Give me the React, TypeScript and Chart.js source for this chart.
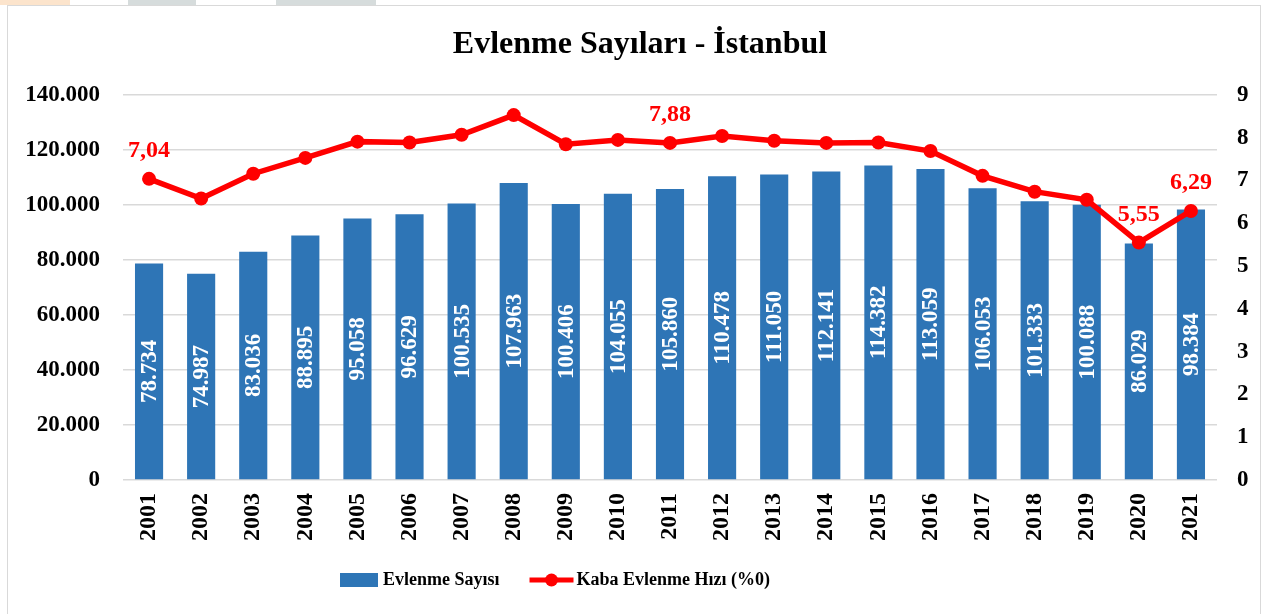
import React, { useEffect, useRef } from "react";
import { Chart, registerables } from "chart.js";

Chart.register(...registerables);

const years = ["2001","2002","2003","2004","2005","2006","2007","2008","2009","2010","2011","2012","2013","2014","2015","2016","2017","2018","2019","2020","2021"];
const marriages = [78734, 74987, 83036, 88895, 95058, 96629, 100535, 107963, 100406, 104055, 105860, 110478, 111050, 112141, 114382, 113059, 106053, 101333, 100088, 86029, 98384];
const crudeRate = [7.04, 6.58, 7.16, 7.53, 7.91, 7.89, 8.07, 8.53, 7.85, 7.95, 7.88, 8.04, 7.93, 7.88, 7.89, 7.69, 7.11, 6.74, 6.55, 5.55, 6.29];
const labelledRateIdx = [0, 10, 19, 20];
const leftTicks = [0, 20000, 40000, 60000, 80000, 100000, 120000, 140000];
const rightTicks = [0, 1, 2, 3, 4, 5, 6, 7, 8, 9];

const TITLE = "Evlenme Sayıları - İstanbul";
const BAR_NAME = "Evlenme Sayısı";
const LINE_NAME = "Kaba Evlenme Hızı (%0)";

const SERIF = "'Liberation Serif', 'Times New Roman', serif";
const BLUE = "#2E75B6";
const RED = "#FF0000";
const GRID = "#D9D9D9";

const fmtThousands = (v: number) => String(Math.round(v)).replace(/\B(?=(\d{3})+(?!\d))/g, ".");
const fmtComma = (v: number) => v.toFixed(2).replace(".", ",");

const decorPlugin = {
  id: "decor",
  afterDatasetsDraw(chart: any) {
    const ctx = chart.ctx;
    const barMeta = chart.getDatasetMeta(1);
    ctx.save();
    ctx.fillStyle = "#FFFFFF";
    ctx.font = `bold 23px ${SERIF}`;
    ctx.textAlign = "center";
    ctx.textBaseline = "middle";
    barMeta.data.forEach((el: any, i: number) => {
      const cy = (el.y + el.base) / 2;
      ctx.save();
      ctx.translate(el.x, cy);
      ctx.rotate(-Math.PI / 2);
      ctx.fillText(fmtThousands(marriages[i]), 0, 1);
      ctx.restore();
    });
    ctx.restore();
  },
  afterDraw(chart: any) {
    const ctx = chart.ctx;
    const lineMeta = chart.getDatasetMeta(0);
    ctx.save();
    ctx.fillStyle = RED;
    ctx.font = `bold 24px ${SERIF}`;
    ctx.textAlign = "center";
    ctx.textBaseline = "alphabetic";
    labelledRateIdx.forEach((i) => {
      const el = lineMeta.data[i];
      ctx.fillText(fmtComma(crudeRate[i]), el.x, el.y - 22);
    });
    ctx.restore();

    ctx.save();
    ctx.fillStyle = "#000";
    ctx.font = `bold 32px ${SERIF}`;
    ctx.textAlign = "center";
    ctx.textBaseline = "middle";
    ctx.fillText(TITLE, 640, 45);
    ctx.restore();

    ctx.save();
    ctx.font = `bold 18px ${SERIF}`;
    ctx.textBaseline = "middle";
    ctx.textAlign = "left";
    const ly = 580;
    const w1 = ctx.measureText(BAR_NAME).width;
    const w2 = ctx.measureText(LINE_NAME).width;
    const total = 38 + 5 + w1 + 30 + 44 + 3 + w2;
    let x = 555 - total / 2;
    ctx.fillStyle = BLUE;
    ctx.fillRect(x, ly - 7, 38, 14);
    x += 43;
    ctx.fillStyle = "#000";
    ctx.fillText(BAR_NAME, x, ly);
    x += w1 + 30;
    ctx.strokeStyle = RED;
    ctx.lineWidth = 5;
    ctx.beginPath();
    ctx.moveTo(x, ly);
    ctx.lineTo(x + 44, ly);
    ctx.stroke();
    ctx.fillStyle = RED;
    ctx.beginPath();
    ctx.arc(x + 22, ly, 6.5, 0, Math.PI * 2);
    ctx.fill();
    x += 47;
    ctx.fillStyle = "#000";
    ctx.fillText(LINE_NAME, x, ly);
    ctx.restore();
  },
};

export default function App() {
  const ref = useRef<HTMLCanvasElement | null>(null);

  useEffect(() => {
    document.body.style.margin = "0";
    const canvas = ref.current;
    if (!canvas) return;
    const chart = new Chart(canvas, {
      type: "bar",
      data: {
        labels: years,
        datasets: [
          {
            type: "line",
            label: LINE_NAME,
            data: crudeRate,
            yAxisID: "y1",
            borderColor: RED,
            backgroundColor: RED,
            borderWidth: 5.5,
            pointRadius: 7,
            pointHoverRadius: 7,
            pointBackgroundColor: RED,
            pointBorderWidth: 0,
            tension: 0,
            order: 0,
          } as any,
          {
            type: "bar",
            label: BAR_NAME,
            data: marriages,
            yAxisID: "y",
            backgroundColor: BLUE,
            borderWidth: 0,
            barPercentage: 0.54,
            categoryPercentage: 1,
            order: 1,
          },
        ],
      },
      options: {
        responsive: false,
        animation: false,
        layout: { padding: { top: 95, left: 0, right: 0, bottom: 54 } },
        plugins: {
          legend: { display: false },
          title: { display: false },
          tooltip: { enabled: false },
        },
        scales: {
          x: {
            grid: { display: false, drawTicks: false },
            border: { display: false },
            ticks: {
              color: "#000",
              font: { family: SERIF, size: 24, weight: "bold" },
              minRotation: 90,
              maxRotation: 90,
              padding: 13,
              autoSkip: false,
            },
            afterFit(scale: any) {
              scale.height = 80;
            },
          },
          y: {
            position: "left",
            min: 0,
            max: 140000,
            afterBuildTicks(scale: any) {
              scale.ticks = leftTicks.map((v) => ({ value: v }));
            },
            grid: { color: GRID, lineWidth: 1.5, drawTicks: false },
            border: { display: false },
            ticks: {
              color: "#000",
              font: { family: SERIF, size: 23, weight: "bold" },
              padding: 23,
              callback: (v: any) => fmtThousands(Number(v)),
            },
            afterFit(scale: any) {
              scale.width = 123;
            },
          },
          y1: {
            position: "right",
            min: 0,
            max: 9,
            afterBuildTicks(scale: any) {
              scale.ticks = rightTicks.map((v) => ({ value: v }));
            },
            grid: { display: false, drawTicks: false },
            border: { display: false },
            ticks: {
              color: "#000",
              font: { family: SERIF, size: 23, weight: "bold" },
              padding: 20,
              callback: (v: any) => String(v),
            },
            afterFit(scale: any) {
              scale.width = 52;
            },
          },
        },
      },
      plugins: [decorPlugin],
    });
    return () => chart.destroy();
  }, []);

  return (
    <div style={{ position: "relative", width: 1269, height: 614, overflow: "hidden", background: "#fff" }}>
      <div style={{ position: "absolute", left: 0, top: 0, width: 70, height: 5, background: "#FCE4CC" }} />
      <div style={{ position: "absolute", left: 128, top: 0, width: 68, height: 5, background: "#D6DCDC" }} />
      <div style={{ position: "absolute", left: 276, top: 0, width: 100, height: 5, background: "#D6DCDC" }} />
      <div
        style={{
          position: "absolute",
          left: 7,
          top: 5,
          width: 1254,
          height: 640,
          border: "1.5px solid #D9D9D9",
          boxSizing: "border-box",
        }}
      />
      <canvas ref={ref} width={1269} height={614} style={{ position: "absolute", left: 0, top: 0, display: "block" }} />
    </div>
  );
}
